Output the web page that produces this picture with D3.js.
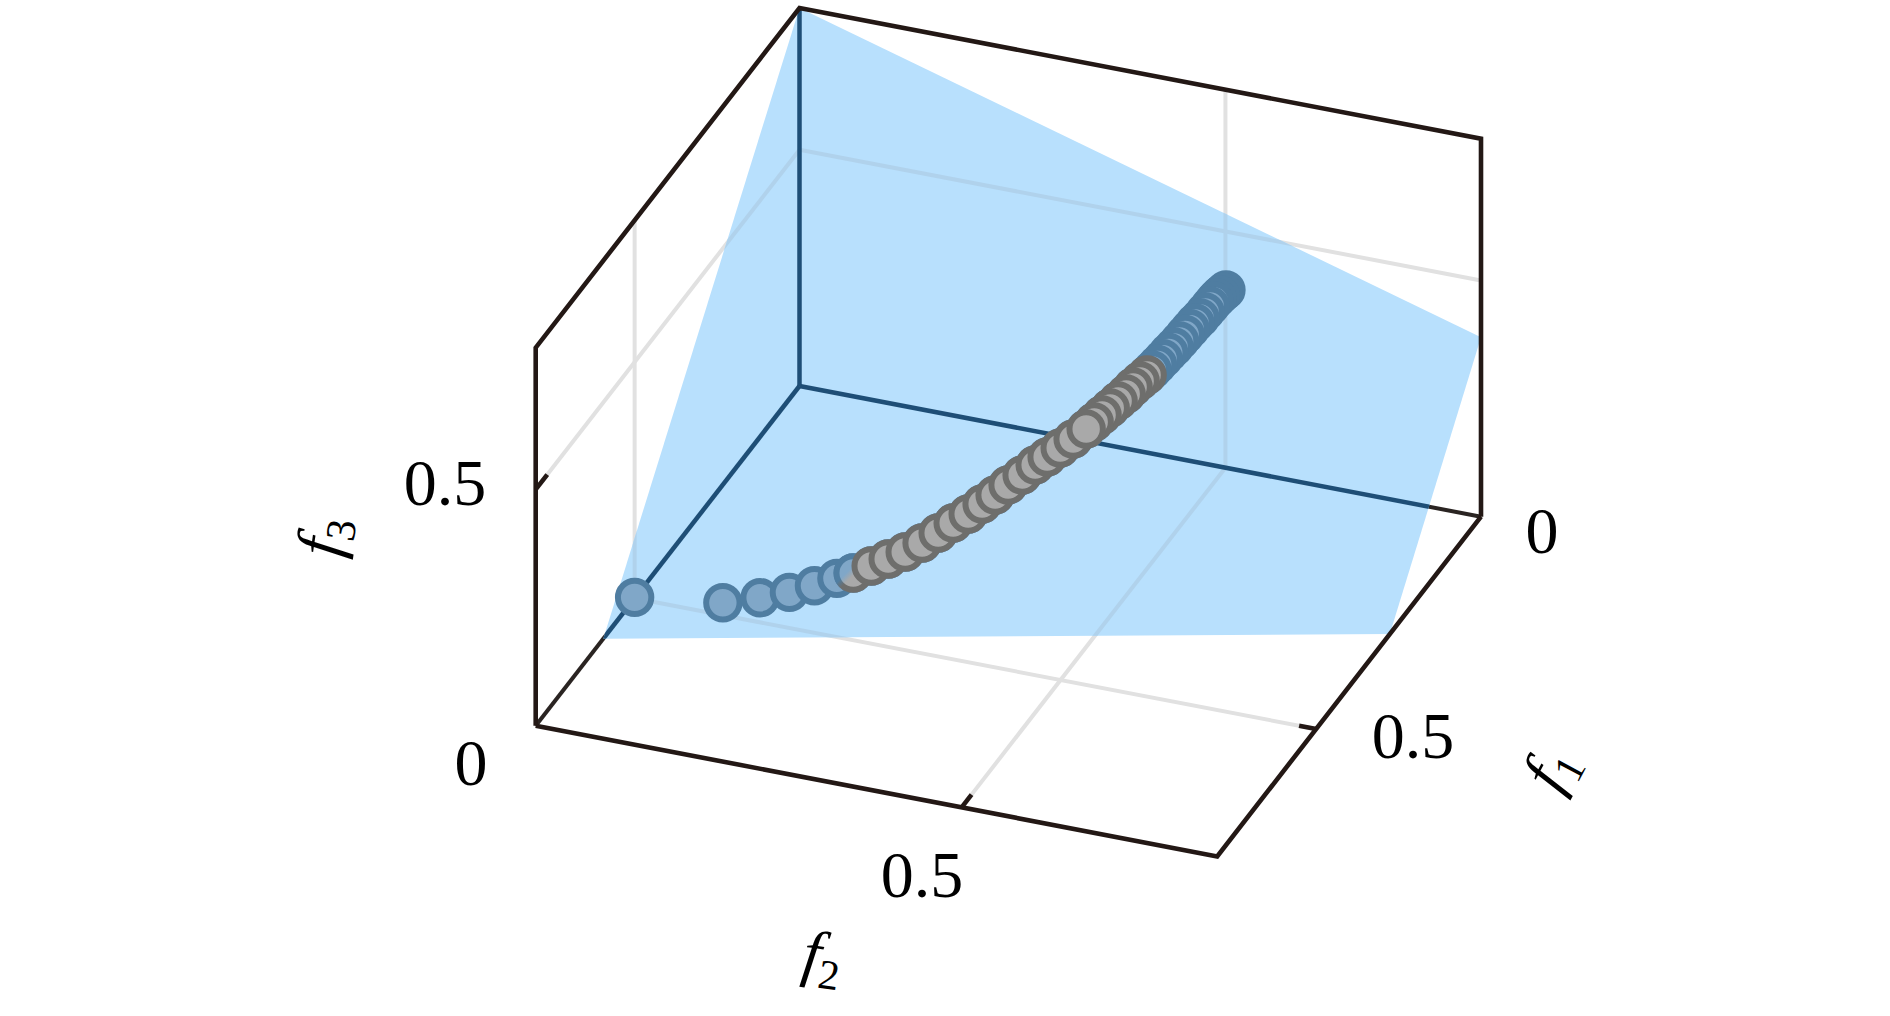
<!DOCTYPE html>
<html>
<head>
<meta charset="utf-8">
<script src="https://cdn.jsdelivr.net/npm/d3@7"></script>
<style>
  html, body { margin: 0; background: #fff; }
  text { font-family: "Liberation Serif", serif; fill: #000; }
</style>
</head>
<body>
<div id="chart"></div>
<script>
// values, one entry per point along the front
const f1Values = [0.5, 0.4902, 0.4587, 0.4339, 0.4127, 0.3937, 0.3799, 0.3647, 0.3503, 0.3359, 0.3216, 0.308, 0.2953, 0.2826, 0.2708, 0.2598, 0.2465, 0.2306, 0.2159, 0.2023, 0.1875, 0.1728, 0.1581, 0.149, 0.14, 0.1308, 0.1218, 0.1127, 0.1048, 0.0969, 0.089, 0.0832, 0.0771, 0.0708, 0.0645, 0.0583, 0.0521, 0.0459, 0.0402, 0.0346, 0.0289, 0.0232, 0.0175, 0.013, 0.0096, 0.0062, 0.0028, 0];
const f2Values = [0, 0.0998, 0.1313, 0.1561, 0.1773, 0.1963, 0.2101, 0.2253, 0.2397, 0.2541, 0.2684, 0.282, 0.2947, 0.3074, 0.3192, 0.3302, 0.3403, 0.3506, 0.3602, 0.369, 0.3786, 0.3881, 0.3977, 0.4036, 0.4094, 0.4154, 0.4212, 0.4271, 0.4322, 0.4374, 0.4425, 0.4463, 0.4502, 0.4543, 0.4584, 0.4624, 0.4664, 0.4705, 0.4742, 0.4778, 0.4815, 0.4852, 0.4889, 0.4918, 0.494, 0.4962, 0.4984, 0.5006];
const f3Values = [0.002, 0.0163, 0.0095, 0.0072, 0.0095, 0.0146, 0.0182, 0.0247, 0.0315, 0.0383, 0.0495, 0.0633, 0.0772, 0.0893, 0.1039, 0.117, 0.1297, 0.1401, 0.1513, 0.1592, 0.1683, 0.1774, 0.1886, 0.1973, 0.2061, 0.2146, 0.2235, 0.232, 0.2415, 0.2491, 0.2563, 0.2629, 0.2705, 0.2785, 0.2874, 0.2948, 0.3035, 0.313, 0.3213, 0.3297, 0.3363, 0.3454, 0.3541, 0.3615, 0.3657, 0.3697, 0.3731, 0.3762];

// the grey points are the stretch of the front from index 6 to 30
const blueRange = [0, 47, 22];
const greyRange = [6, 30, 22];

// corners of the reference plane
const planeF1 = [0, 0, 0.2765, 0.595];
const planeF2 = [0, 0.8, 0.8, 0];
const planeF3 = [0.8, 0.38, 0, 0];

const domain = [0, 0.8];
const gridValue = 0.5;
const tickLabels = ["0", "0.5"];

const width = 1890;
const height = 1016;

const originX = 799.5;
const originY = 386;
const xF1 = d3.scaleLinear().domain(domain).range([0, -263.8]);
const yF1 = d3.scaleLinear().domain(domain).range([0, 339.7]);
const xF2 = d3.scaleLinear().domain(domain).range([0, 681.5]);
const yF2 = d3.scaleLinear().domain(domain).range([0, 130.7]);
const yF3 = d3.scaleLinear().domain(domain).range([0, -378]);

function project(f1, f2, f3) {
    return [originX + xF1(f1) + xF2(f2), originY + yF1(f1) + yF2(f2) + yF3(f3)];
}

const line = d3.line();
const top_ = domain[1];

const svg = d3.select("#chart").append("svg")
    .attr("width", width)
    .attr("height", height);

const planePoints = planeF1.map((d, i) => project(d, planeF2[i], planeF3[i]));

const defs = svg.append("defs");
defs.append("clipPath").attr("id", "plane-clip")
    .append("polygon").attr("points", planePoints.join(" "));

// the first grey point fades into blue on its upper left
function fade(id, blue, grey) {
    const g = defs.append("linearGradient").attr("id", id)
        .attr("x1", 0.1).attr("y1", 0.1).attr("x2", 0.8).attr("y2", 0.8);
    g.append("stop").attr("offset", 0.42).attr("stop-color", blue);
    g.append("stop").attr("offset", 0.62).attr("stop-color", grey);
}
fade("fade-fill", "#80a7c8", "#a9a9a9");
fade("fade-stroke", "#4f7da1", "#6e6e6c");

// grid lines on the three back faces
const v = gridValue;
const gridLines = [
    [[v, 0, 0], [v, top_, 0]],
    [[0, v, 0], [top_, v, 0]],
    [[0, v, 0], [0, v, top_]],
    [[0, 0, v], [0, top_, v]],
    [[0, 0, v], [top_, 0, v]],
    [[v, 0, 0], [v, 0, top_]]
];

// the three edges meeting at the back corner
const backEdges = [
    [[0, 0, 0], [top_, 0, 0]],
    [[0, 0, 0], [0, top_, 0]],
    [[0, 0, 0], [0, 0, top_]]
];

const frame = [
    [[top_, 0, 0], [top_, top_, 0], [0, top_, 0]],
    [[top_, 0, 0], [top_, 0, top_], [0, 0, top_], [0, top_, top_], [0, top_, 0]]
];

const ticks = [
    [[v, top_, 0], [v, top_ - 0.02, 0]],
    [[top_, v, 0], [top_ - 0.03, v, 0]],
    [[top_, 0, v], [top_ - 0.035, 0, v]]
];

function drawLines(parent, rows, color, w) {
    parent.selectAll(null)
        .data(rows)
        .enter().append("path")
        .attr("d", d => line(d.map(p => project(p[0], p[1], p[2]))))
        .attr("fill", "none")
        .attr("stroke", color)
        .attr("stroke-width", w)
        .attr("stroke-linejoin", "miter");
}

drawLines(svg.append("g"), gridLines, "#e1e1e1", 4);
drawLines(svg.append("g"), backEdges, "#2a2422", 4);

svg.append("polygon")
    .attr("points", planePoints.join(" "))
    .attr("fill", "#b8e0fd");

// the lines seen through the plane
const through = svg.append("g").attr("clip-path", "url(#plane-clip)");
drawLines(through, gridLines, "#b0d2ec", 4);
drawLines(through, backEdges, "#1e4e76", 4.5);

drawLines(svg.append("g"), frame, "#231815", 4.6);
drawLines(svg.append("g"), ticks, "#231815", 4.6);

// both ends are drawn inwards, so the point at the peak index ends on top
function drawOrder(range) {
    const [start, end, peak] = range;
    return [...d3.range(start, peak), ...d3.range(end, peak, -1), peak];
}

function drawPoints(range, fill, stroke) {
    svg.append("g").selectAll("circle")
        .data(drawOrder(range))
        .enter().append("circle")
        .attr("cx", i => project(f1Values[i], f2Values[i], f3Values[i])[0])
        .attr("cy", i => project(f1Values[i], f2Values[i], f3Values[i])[1])
        .attr("r", 16.7)
        .attr("fill", fill)
        .attr("stroke", stroke)
        .attr("stroke-width", 6);
}

drawPoints(blueRange, "#80a7c8", "#4f7da1");
drawPoints(greyRange,
    i => i === greyRange[0] ? "url(#fade-fill)" : "#a9a9a9",
    i => i === greyRange[0] ? "url(#fade-stroke)" : "#6e6e6c");

// tick labels
const labelRows = [
    { text: tickLabels[0], x: 471, y: 785 },
    { text: tickLabels[1], x: 445, y: 505 },
    { text: tickLabels[1], x: 922, y: 897 },
    { text: tickLabels[0], x: 1542, y: 553 },
    { text: tickLabels[1], x: 1413, y: 758 }
];

svg.append("g").selectAll("text")
    .data(labelRows)
    .enter().append("text")
    .attr("x", d => d.x)
    .attr("y", d => d.y)
    .attr("text-anchor", "middle")
    .attr("font-size", 66)
    .text(d => d.text);

// axis names
const axisNames = [
    { sub: "3", x: 326, y: 537, angle: -82 },
    { sub: "2", x: 822, y: 960, angle: 8 },
    { sub: "1", x: 1553, y: 770, angle: -62 }
];

const names = svg.append("g").selectAll("text")
    .data(axisNames)
    .enter().append("text")
    .attr("transform", d => `translate(${d.x},${d.y}) rotate(${d.angle})`)
    .attr("text-anchor", "middle")
    .attr("font-style", "italic");

names.append("tspan")
    .attr("font-size", 64)
    .attr("dy", 16)
    .text("f");

names.append("tspan")
    .attr("font-size", 42)
    .attr("dy", 12)
    .attr("font-style", "normal")
    .text(d => d.sub);
</script>
</body>
</html>
